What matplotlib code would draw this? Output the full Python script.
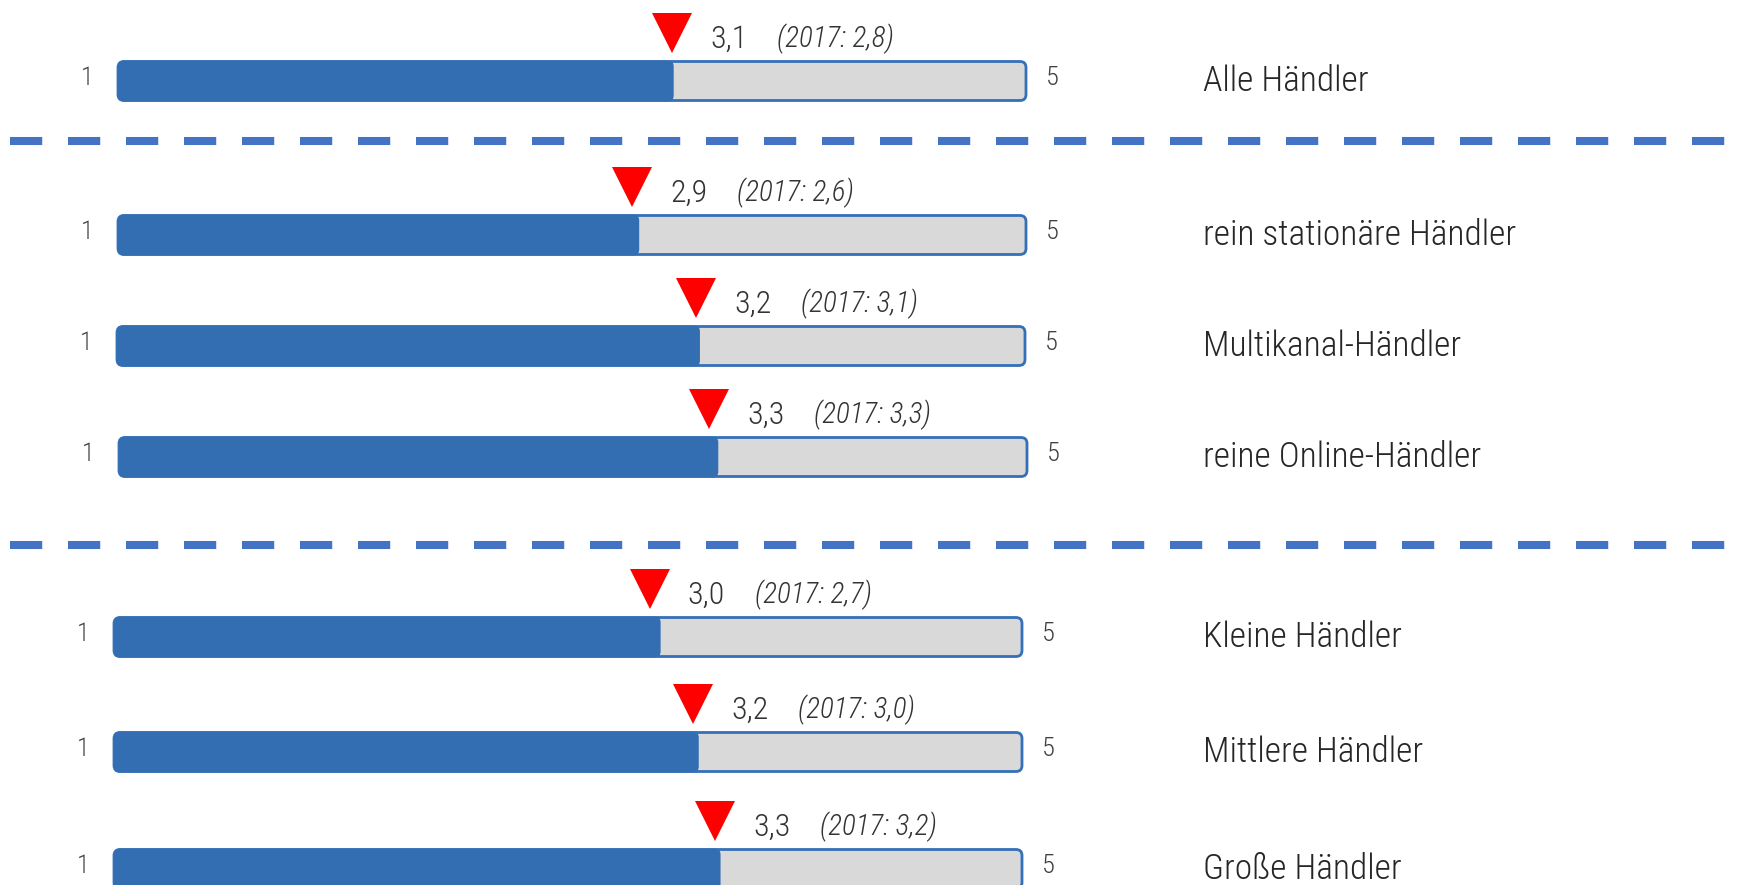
import matplotlib
matplotlib.use("Agg")
import matplotlib.pyplot as plt
from matplotlib.patches import FancyBboxPatch
from matplotlib import font_manager as fm

# ---- font choice: a narrow / light sans if available ----
entries = fm.fontManager.ttflist
names = {e.name for e in entries}


def stretch_ok(e):
    st = e.stretch
    if isinstance(st, str):
        return 'condensed' in st
    try:
        return int(st) <= 600
    except Exception:
        return False


font_kw = {}
if 'Roboto Condensed' in names:
    font_kw = dict(family=['Roboto Condensed', 'DejaVu Sans'], weight='light')
elif 'Liberation Sans Narrow' in names:
    font_kw = dict(family=['Liberation Sans Narrow', 'DejaVu Sans'])
elif 'Open Sans Condensed' in names:
    font_kw = dict(family=['Open Sans Condensed', 'DejaVu Sans'], weight='light')
elif any(e.name == 'DejaVu Sans' and stretch_ok(e) for e in entries):
    font_kw = dict(family=['DejaVu Sans'], stretch='condensed')
elif 'Roboto' in names:
    font_kw = dict(family=['Roboto', 'DejaVu Sans'], weight='light')
else:
    font_kw = dict(family=['DejaVu Sans'])

# ---- data ----
categories = ["Alle Händler", "rein stationäre Händler", "Multikanal-Händler",
              "reine Online-Händler", "Kleine Händler", "Mittlere Händler", "Große Händler"]
bar_fill = [3.06, 2.87, 3.21, 3.30, 3.01, 3.22, 3.34]       # end of blue fill (scale 0..5)
marker_pos = [3.05, 2.83, 3.19, 3.25, 2.95, 3.19, 3.31]     # red triangle position
value_labels = ["3,1", "2,9", "3,2", "3,3", "3,0", "3,2", "3,3"]
prev_labels = ["(2017: 2,8)", "(2017: 2,6)", "(2017: 3,1)", "(2017: 3,3)",
               "(2017: 2,7)", "(2017: 3,0)", "(2017: 3,2)"]
scale_min_label, scale_max_label = "1", "5"
scale_max = 5

# ---- layout (pixels) ----
W, H = 1738, 885
row_y = [81, 235, 346, 457, 637, 752, 869]
row_shift_px = [0, 0, -1, 1, -4, -4, -4]
sep_y = [141, 545]
x0_px, px_per_unit = 118, 181.6

fig = plt.figure(figsize=(W / 100, H / 100), dpi=100)
ax = fig.add_axes([0, 0, 1, 1])
ax.set_xlim(-x0_px / px_per_unit, (W - x0_px) / px_per_unit)
ax.set_ylim(H, 0)
ax.axis('off')

u = 1 / px_per_unit          # one pixel in x data units
bar_h = 39
blue = '#336EB3'
edge = '#3470B8'
txt = '#333333'

for i, cat in enumerate(categories):
    y = row_y[i]
    s = row_shift_px[i] * u
    bg = FancyBboxPatch((s, y - bar_h / 2), scale_max, bar_h,
                        boxstyle=f"round,pad=0,rounding_size={6 * u}",
                        mutation_aspect=px_per_unit,
                        facecolor='#D9D9D9', edgecolor=edge, linewidth=2.0, zorder=2)
    ax.add_patch(bg)
    fg = FancyBboxPatch((s, y - bar_h / 2 - 1), bar_fill[i], bar_h + 2,
                        boxstyle=f"round,pad=0,rounding_size={6 * u}",
                        mutation_aspect=px_per_unit,
                        facecolor=blue, edgecolor='none', zorder=3)
    ax.add_patch(fg)
    tx = marker_pos[i] + s
    ax.plot([tx], [y - 48], marker='v', markersize=28.5, color='#FF0000',
            markeredgewidth=0, zorder=4, linestyle='none')
    ax.text(tx + 38 * u, y - 42, value_labels[i], fontsize=23, color=txt,
            ha='left', va='center', zorder=5, **font_kw)
    ax.text(tx + 105 * u, y - 42, prev_labels[i], fontsize=21, color=txt,
            style='italic', ha='left', va='center', zorder=5, **font_kw)
    ax.text(s - 31 * u, y - 3, scale_min_label, fontsize=19, color='#404040',
            ha='center', va='center', **font_kw)
    ax.text(s + scale_max + 26 * u, y - 3, scale_max_label, fontsize=19, color='#404040',
            ha='center', va='center', **font_kw)
    ax.text(5.975, y, cat, fontsize=25.5, color='#262626', ha='left', va='center',
            **font_kw)

for ys in sep_y:
    ax.plot([(10 - x0_px) * u, (1725 - x0_px) * u], [ys, ys], color='#4472C4',
            linewidth=5.8, dashes=(4, 3.2), solid_capstyle='butt',
            dash_capstyle='butt', zorder=1)

fig.savefig("out.png", dpi=100)
